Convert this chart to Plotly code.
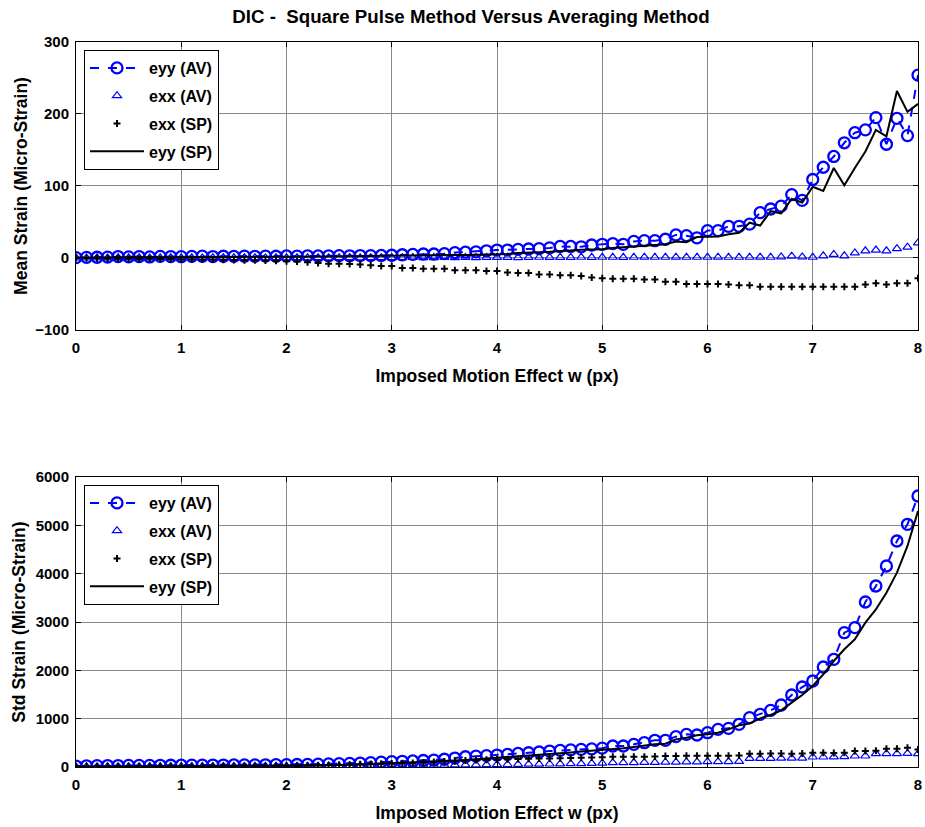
import numpy as np
import plotly.graph_objects as go
from plotly.subplots import make_subplots

# Imposed motion effect w (px), sampled every 0.1 px
w = np.round(np.linspace(0, 8, 81), 1)

# Mean strain (micro-strain)
mean_eyy_av = [
    0.5, 0.8, 1.0, 1.2, 2.0, 1.5, 2.0, 1.4, 2.2, 2.0,
    1.8, 2.2, 2.5, 2.0, 2.4, 2.2, 2.5, 2.3, 2.6, 2.4,
    2.8, 2.5, 3.0, 2.8, 3.0, 3.2, 3.0, 3.4, 3.2, 3.5,
    3.8, 4.5, 5.0, 5.5, 5.5, 6.0, 7.5, 8.0, 8.5, 10.0,
    11.0, 11.0, 12.0, 12.5, 13.0, 14.0, 16.0, 16.0, 15.5, 18.0,
    19, 20, 19, 23, 24, 24, 26, 32, 31, 28,
    38, 38, 44, 44, 47, 63, 68, 72, 88, 80,
    109, 126, 141, 160, 174, 178, 195, 158, 194, 170, 254,
]
mean_exx_av = [
    0.2, 0.0, 0.3, 0.1, 0.5, 0.2, 0.4, 0.0, 0.3, 0.5,
    0.2, 0.4, 0.1, 0.3, 0.5, 0.2, 0.4, 0.3, 0.1, 0.5,
    0.3, 0.4, 0.2, 0.5, 0.3, 0.4, 0.6, 0.2, 0.5, 0.4,
    0.6, 0.5, 0.7, 0.4, 0.6, 0.8, 0.5, 0.7, 0.6, 0.8,
    0.7, 0.9, 0.6, 0.8, 1.0, 0.7, 0.9, 0.8, 1.0, 0.9,
    1.0, 1.0, 0.9, 1.0, 1.1, 1.0, 1.0, 1.1, 1.0, 1.0,
    1.0, 1.1, 1.0, 1.0, 1.0, 1.1, 1.0, 1.5, 2.5, 1.5,
    1.0, 3.0, 5.0, 3.0, 7.0, 10.0, 11.0, 10.0, 13.0, 15.0, 21.0,
]
mean_exx_sp = [
    0.0, -0.3, -0.5, -0.6, -0.8, -1.0, -1.0, -1.2, -1.3, -1.5,
    -1.6, -1.8, -2.0, -2.2, -2.5, -2.8, -3.0, -3.3, -3.6, -4.0,
    -4.5, -5.0, -6.0, -7.0, -8.0, -8.0, -8.5, -9.0, -10.0, -11.0,
    -11.0, -14.0, -14.0, -15.0, -15.0, -15.0, -17.0, -17.0, -17.0, -18.0,
    -18.0, -20.0, -21.0, -21.0, -23.0, -23.0, -24.0, -24.0, -25.0, -27.0,
    -28, -29, -29, -29, -30, -30, -33, -33, -36, -36,
    -36, -36, -37, -38, -38, -40, -40, -40, -40, -40,
    -40, -40, -40, -40, -40, -37, -35, -37, -35, -35, -28,
]
mean_eyy_sp = [
    0.2, 0.5, 0.6, 0.8, 1.0, 1.0, 1.2, 1.0, 1.3, 1.2,
    1.2, 1.4, 1.5, 1.3, 1.5, 1.5, 1.6, 1.5, 1.7, 1.6,
    1.8, 1.7, 1.8, 2.0, 2.0, 2.2, 2.0, 2.3, 2.5, 2.6,
    2.8, 3.0, 3.2, 3.5, 3.5, 3.8, 4.0, 4.2, 4.4, 4.6,
    4.8, 5.5, 7.0, 7.0, 8.0, 8.5, 9.0, 10.5, 11.5, 12.0,
    12, 14, 15, 17, 18, 18, 19, 23, 22, 29,
    30, 30, 33, 35, 49, 45, 65, 62, 82, 77,
    99, 93, 125, 101, 125, 148, 178, 169, 232, 203, 214,
]

# Standard deviation of strain (micro-strain)
std_eyy_av = [
    20, 25, 28, 30, 30, 32, 33, 34, 35, 36,
    37, 38, 38, 40, 40, 42, 43, 44, 46, 48,
    50, 52, 55, 60, 65, 70, 75, 82, 90, 100,
    110, 118, 125, 135, 144, 160, 185, 212, 225, 235,
    247, 262, 280, 295, 310, 330, 345, 355, 365, 375,
    390, 434, 434, 469, 503, 552, 552, 628, 676, 662,
    710, 779, 800, 883, 1021, 1090, 1172, 1283, 1490, 1655,
    1779, 2069, 2228, 2779, 2883, 3414, 3745, 4159, 4676, 5021, 5607,
]
std_exx_av = [
    5, 6, 6, 7, 7, 8, 8, 9, 9, 10,
    10, 11, 11, 12, 12, 13, 13, 14, 14, 15,
    15, 16, 17, 18, 19, 20, 22, 24, 26, 28,
    30, 32, 34, 36, 38, 40, 42, 44, 46, 48,
    50, 52, 55, 58, 60, 62, 65, 68, 70, 75,
    80, 90, 90, 92, 95, 95, 100, 100, 105, 105,
    110, 110, 112, 115, 179, 179, 180, 182, 185, 185,
    207, 207, 210, 215, 228, 228, 276, 276, 276, 280, 276,
]
std_exx_sp = [
    8, 9, 10, 10, 11, 11, 12, 12, 13, 13,
    14, 14, 15, 15, 16, 16, 17, 18, 18, 19,
    20, 22, 25, 30, 35, 40, 48, 55, 62, 66,
    70, 78, 85, 95, 105, 115, 125, 135, 145, 150,
    155, 160, 165, 170, 175, 178, 182, 186, 190, 195,
    200, 210, 210, 212, 212, 215, 230, 230, 232, 232,
    235, 235, 235, 238, 276, 276, 278, 278, 276, 280,
    297, 297, 292, 297, 331, 331, 335, 380, 380, 400, 360,
]
std_eyy_sp = [
    10, 12, 13, 14, 15, 15, 16, 17, 17, 18,
    18, 19, 19, 20, 20, 21, 22, 22, 23, 24,
    25, 26, 27, 30, 35, 40, 45, 52, 60, 68,
    75, 82, 90, 100, 110, 118, 130, 144, 160, 175,
    192, 205, 215, 226, 240, 260, 281, 300, 320, 335,
    345, 365, 386, 414, 448, 469, 483, 572, 607, 655,
    676, 710, 779, 862, 897, 1007, 1076, 1172, 1331, 1490,
    1676, 1917, 2193, 2435, 2641, 2986, 3262, 3607, 4021, 4573, 5297,
]

FONT = "Liberation Sans, Arial, sans-serif"
BLUE = "#0000ff"

fig = make_subplots(rows=2, cols=1, vertical_spacing=0.0)


def add_series(row, eyy_av, exx_av, exx_sp, eyy_sp, legend):
    tag = f"r{row}"
    fig.add_trace(go.Scatter(
        x=w, y=eyy_av, name="eyy (AV)", mode="lines+markers",
        legend=legend, legendgroup=tag + "a",
        line=dict(color=BLUE, width=2, dash="dash"),
        marker=dict(symbol="circle-open", size=11, color=BLUE,
                    line=dict(width=2.3, color=BLUE)),
    ), row=row, col=1)
    fig.add_trace(go.Scatter(
        x=w, y=exx_av, name="exx (AV)", mode="markers",
        legend=legend, legendgroup=tag + "b",
        marker=dict(symbol="triangle-up-open", size=8, color=BLUE,
                    line=dict(width=1.2, color=BLUE)),
    ), row=row, col=1)
    fig.add_trace(go.Scatter(
        x=w, y=exx_sp, name="exx (SP)", mode="markers",
        legend=legend, legendgroup=tag + "c",
        marker=dict(symbol="cross-thin-open", size=5, color="black",
                    line=dict(width=2, color="black")),
    ), row=row, col=1)
    fig.add_trace(go.Scatter(
        x=w, y=eyy_sp, name="eyy (SP)", mode="lines",
        legend=legend, legendgroup=tag + "d",
        line=dict(color="black", width=2),
    ), row=row, col=1)


add_series(1, mean_eyy_av, mean_exx_av, mean_exx_sp, mean_eyy_sp, "legend")
add_series(2, std_eyy_av, std_exx_av, std_exx_sp, std_eyy_sp, "legend2")

axis_common = dict(
    showline=True, linecolor="black", linewidth=1, mirror="ticks",
    ticks="inside", ticklen=5, tickcolor="black", automargin=False,
    showgrid=True, gridcolor="#8a8a8a", gridwidth=1, zeroline=False,
    tickfont=dict(family=FONT, size=15, color="black", weight="bold"),
)
title_font = dict(family=FONT, size=17.5, color="black", weight="bold")

for r in (1, 2):
    fig.update_xaxes(range=[0, 8], dtick=1, ticklabelstandoff=4, **axis_common,
                     title=dict(text="Imposed Motion Effect w (px)", font=title_font, standoff=14),
                     row=r, col=1)

fig.update_yaxes(range=[-100, 300], dtick=100, ticklabelstandoff=3, **axis_common,
                 title=dict(text="Mean Strain (Micro-Strain)", font=title_font, standoff=3),
                 row=1, col=1)
fig.update_yaxes(range=[0, 6000], dtick=1000, ticklabelstandoff=3, **axis_common,
                 title=dict(text="Std Strain (Micro-Strain)", font=title_font, standoff=5),
                 row=2, col=1)

# Axes placement within the page
fig.update_layout(
    xaxis=dict(domain=[0, 1]), xaxis2=dict(domain=[0, 1]),
    yaxis=dict(domain=[0.6028, 1.0]), yaxis2=dict(domain=[0.0, 0.4]),
)

legend_common = dict(
    bgcolor="white", bordercolor="black", borderwidth=1,
    font=dict(family=FONT, size=16, color="black", weight="bold"),
    xanchor="left", yanchor="top", tracegroupgap=4, itemwidth=54,
)
fig.update_layout(
    width=925, height=827,
    margin=dict(l=76, r=7, t=42, b=60),
    paper_bgcolor="white", plot_bgcolor="white",
    title=dict(text="DIC -  Square Pulse Method Versus Averaging Method",
               font=dict(family=FONT, size=18.7, color="black", weight="bold"),
               x=471 / 925, xanchor="center", xref="container",
               y=1 - 16 / 827, yanchor="middle", yref="container"),
    legend=dict(x=0.0095, y=0.989, **legend_common),
    legend2=dict(x=0.0095, y=0.389, **legend_common),
)

fig.write_html("out.html")
